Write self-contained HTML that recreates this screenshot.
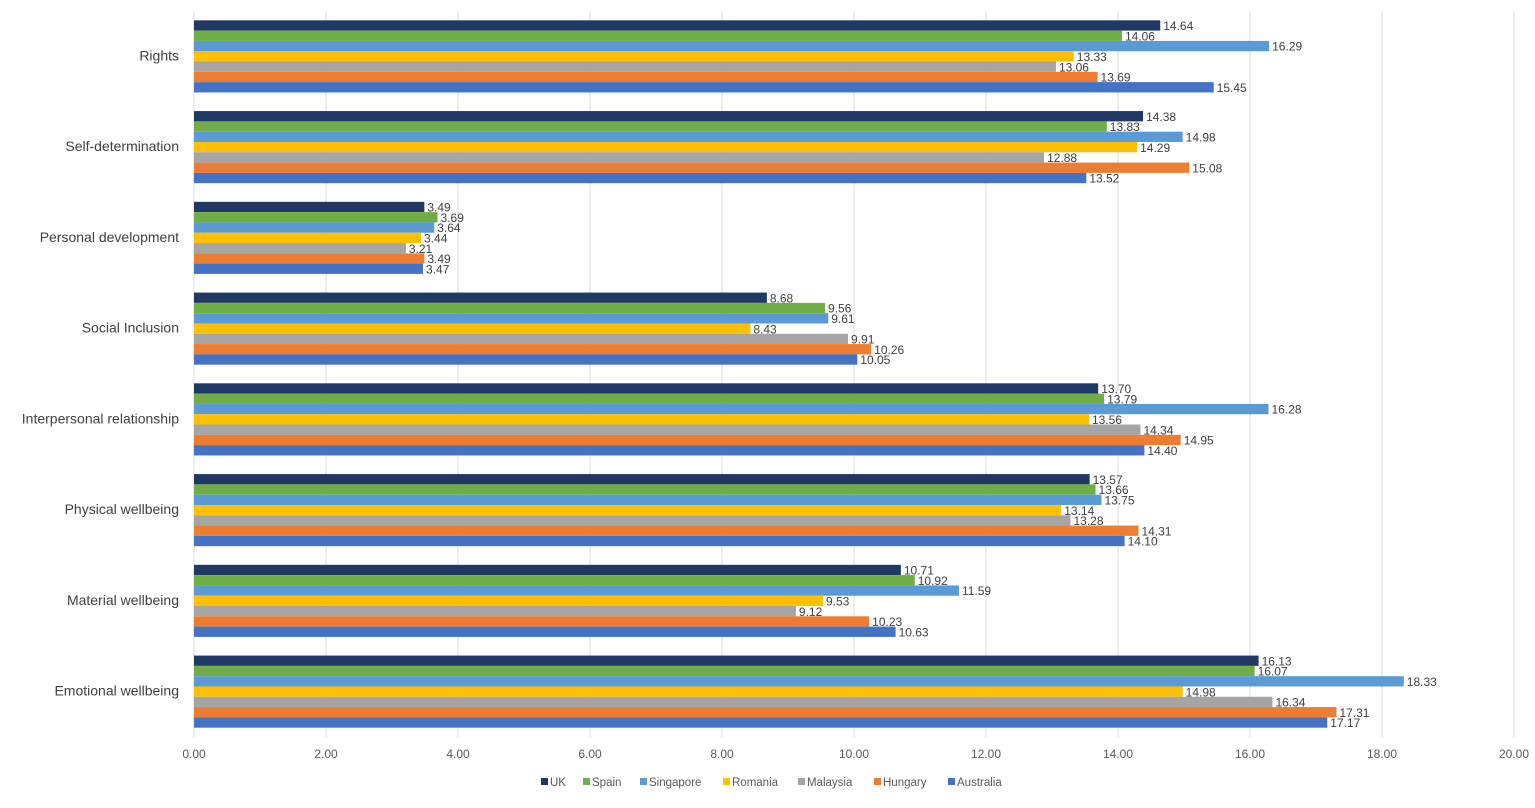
<!DOCTYPE html>
<html><head><meta charset="utf-8"><style>
body{margin:0;background:#fff;font-family:"Liberation Sans",sans-serif;}
svg text{font-family:"Liberation Sans",sans-serif;}
</style></head><body>
<svg id="chart" width="1535" height="803"></svg>
<script>
const categories=["Rights","Self-determination","Personal development","Social Inclusion","Interpersonal relationship","Physical wellbeing","Material wellbeing","Emotional wellbeing"];
const seriesNames=["UK","Spain","Singapore","Romania","Malaysia","Hungary","Australia"];
const ukVals=[14.64,14.38,3.49,8.68,13.70,13.57,10.71,16.13];
const spainVals=[14.06,13.83,3.69,9.56,13.79,13.66,10.92,16.07];
const singaporeVals=[16.29,14.98,3.64,9.61,16.28,13.75,11.59,18.33];
const romaniaVals=[13.33,14.29,3.44,8.43,13.56,13.14,9.53,14.98];
const malaysiaVals=[13.06,12.88,3.21,9.91,14.34,13.28,9.12,16.34];
const hungaryVals=[13.69,15.08,3.49,10.26,14.95,14.31,10.23,17.31];
const australiaVals=[15.45,13.52,3.47,10.05,14.40,14.10,10.63,17.17];
const xTicks=[0,2,4,6,8,10,12,14,16,18,20];
const series=[ukVals,spainVals,singaporeVals,romaniaVals,malaysiaVals,hungaryVals,australiaVals];
const colors=["#203864","#70ad47","#5b9bd5","#ffc000","#a5a5a5","#ed7d31","#4472c4"];
const svg=document.getElementById('chart');
const NS="http://www.w3.org/2000/svg";
const x0=194,x1=1514,plotTop=11,plotBottom=737;
const band=(plotBottom-plotTop)/categories.length, barH=10.3, pad=(band-barH*7)/2;
const xs=v=>x0+(v/20)*(x1-x0);
function mk(t,a){const e=document.createElementNS(NS,t);for(const k in a)e.setAttribute(k,a[k]);svg.appendChild(e);return e;}
xTicks.forEach(t=>{
 const g=mk('line',{x1:xs(t),x2:xs(t),y1:plotTop,y2:plotBottom,stroke:'#d9d9d9','stroke-width':1});
 
 
 const l=mk('text',{x:xs(t),y:758,'text-anchor':'middle','font-size':12,fill:'#595959'});
 l.textContent=t.toFixed(2);
 
 
});
categories.forEach((c,i)=>{
 const yb=plotTop+i*band;
 const l=mk('text',{x:179,y:yb+band/2+4,'text-anchor':'end','font-size':14,fill:'#404040'});
 l.textContent=c;
 
 
 series.forEach((s,j)=>{
  const y=yb+pad+j*barH;
  const r=mk('rect',{x:x0,y:y,width:xs(s[i])-x0,height:barH,fill:colors[j]});
  
  
  const v=mk('text',{x:xs(s[i])+3,y:y+barH-0.5,'font-size':12,fill:'#404040'});
  v.textContent=s[i].toFixed(2);
  
  
 });
});
const legendX=[541,583,640,723,798,874,948];
seriesNames.forEach((n,j)=>{
 const lx=legendX[j];
 const r=mk('rect',{x:lx,y:778,width:7,height:7,fill:colors[j]});
 
 
 const t=mk('text',{x:lx+9,y:786,'font-size':11.5,fill:'#595959'});
 t.textContent=n;
 
 
});
</script>
</body></html>
